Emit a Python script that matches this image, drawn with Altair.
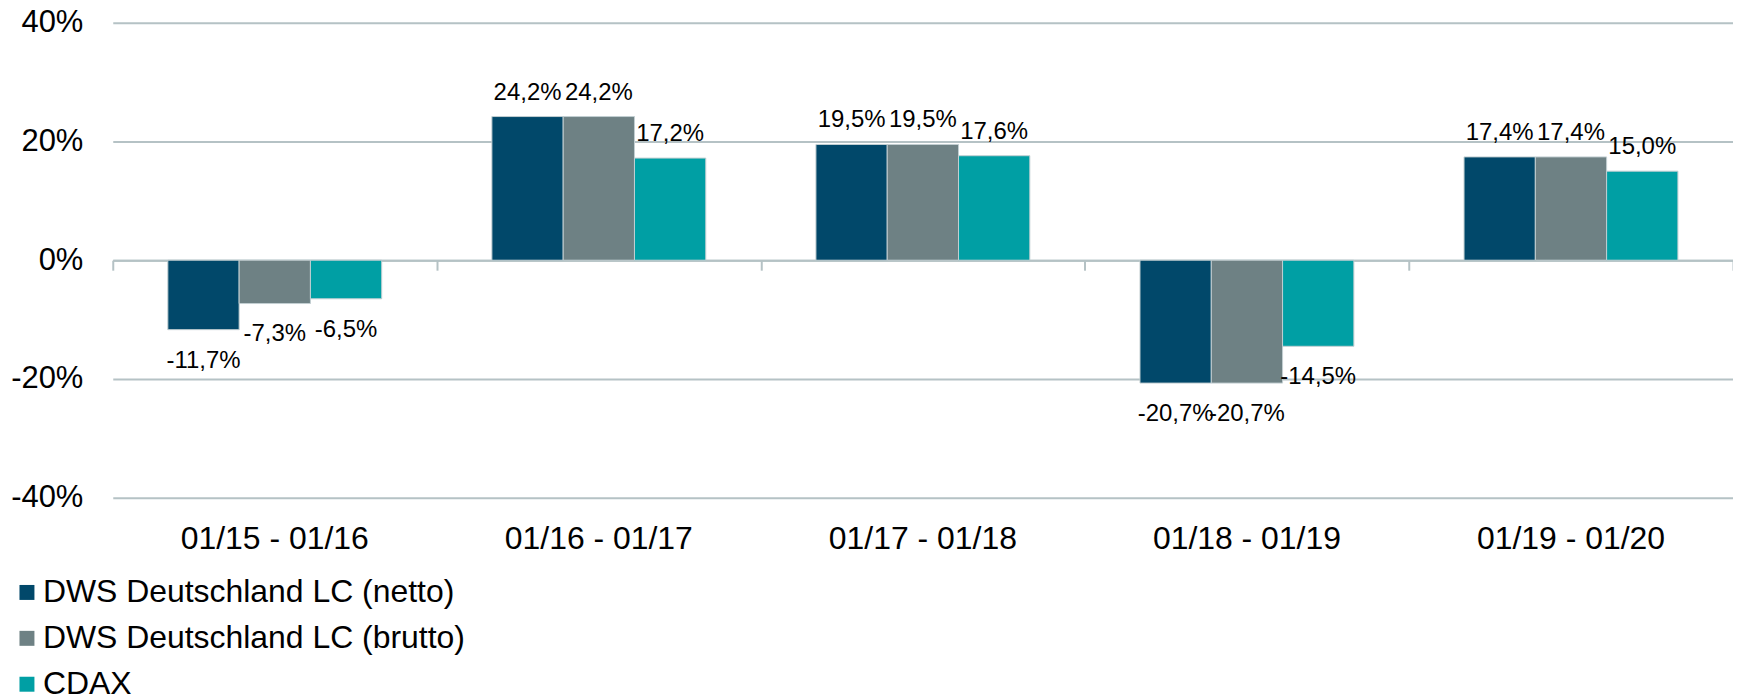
import altair as alt
import pandas as pd

periods = ["01/15 - 01/16", "01/16 - 01/17", "01/17 - 01/18", "01/18 - 01/19", "01/19 - 01/20"]
series = ["DWS Deutschland LC (netto)", "DWS Deutschland LC (brutto)", "CDAX"]
netto = [-11.7, 24.2, 19.5, -20.7, 17.4]
brutto = [-7.3, 24.2, 19.5, -20.7, 17.4]
cdax = [-6.5, 17.2, 17.6, -14.5, 15.0]
colors = ["#01486A", "#6E8184", "#009FA4"]
y_ticks = [-40, -20, 0, 20, 40]

rows = []
for s, vals in zip(series, [netto, brutto, cdax]):
    for p, v in zip(periods, vals):
        rows.append({"period": p, "series": s, "value": v,
                     "label": f"{v:.1f}".replace(".", ",") + "%"})
df = pd.DataFrame(rows)

W, H = 1624, 476
FONT = "Liberation Sans"
GRID = "#B5C2C5"

xscale = alt.Scale(domain=periods, paddingInner=0.34, paddingOuter=0.17)

x_main = alt.X("period:N", sort=periods, scale=xscale,
               axis=alt.Axis(title=None, ticks=False, tickSize=0, domain=False,
                             labelFontSize=32, labelColor="black", labelPadding=41,
                             labelBaseline="middle", labelAngle=0, grid=False,
                             labelFont=FONT, labelLimit=0))
y_axis = alt.Axis(title=None, values=y_ticks, labelExpr="datum.value + '%'",
                  grid=True, gridColor=GRID, gridWidth=2, domain=False,
                  ticks=False, tickSize=0, labelFontSize=31, labelColor="black",
                  labelPadding=30, labelFont=FONT, labelBaseline="middle")
y_main = alt.Y("value:Q", scale=alt.Scale(domain=[-40, 40], nice=False, zero=False),
               axis=y_axis)
xoff = alt.XOffset("series:N", sort=series,
                   scale=alt.Scale(domain=series, paddingInner=0, paddingOuter=0))
color = alt.Color("series:N", sort=series,
                  scale=alt.Scale(domain=series, range=colors),
                  legend=alt.Legend(title=None, orient="none", legendX=-102, legendY=555,
                                    direction="vertical", symbolType="square",
                                    symbolSize=225, symbolStrokeWidth=0,
                                    labelFontSize=32, labelFont=FONT, labelColor="black",
                                    labelLimit=1000, rowPadding=14, padding=0,
                                    labelOffset=0, labelBaseline="middle"))

bars = alt.Chart(df).mark_bar(stroke="#C3CFD2", strokeWidth=1).encode(
    x=x_main, y=y_main, xOffset=xoff, color=color)

pos = alt.Chart(df).transform_filter("datum.value >= 0").mark_text(
    fontSize=24, dy=-17, baseline="alphabetic", font=FONT, color="black").encode(
    x=x_main, y=y_main, xOffset=xoff, text="label:N")

neg = alt.Chart(df).transform_filter("datum.value < 0").mark_text(
    fontSize=24, dy=38, baseline="alphabetic", font=FONT, color="black").encode(
    x=x_main, y=y_main, xOffset=xoff, text="label:N")

zero_axis = alt.Chart(df).mark_point(opacity=0).encode(
    x=alt.X("period:N", sort=periods,
            scale=alt.Scale(domain=periods, paddingInner=0, paddingOuter=0),
            axis=alt.Axis(title=None, orient="bottom", offset=-(H / 2), tickBand="extent",
                          ticks=True, tickSize=10, tickColor=GRID, tickWidth=2,
                          domain=True, domainColor=GRID, domainWidth=2,
                          labels=False, grid=False)),
    y=y_main)

chart = alt.layer(bars, pos, neg, zero_axis).resolve_scale(x="independent").resolve_axis(
    x="independent").properties(
    width=W, height=H,
    autosize=alt.AutoSizeParams(type="none"),
    padding={"left": 105, "top": 14, "right": 0, "bottom": 196},
).configure(font=FONT).configure_view(strokeWidth=0, stroke="transparent")

chart.save("out.html", embed_options={"renderer": "svg", "actions": False})
